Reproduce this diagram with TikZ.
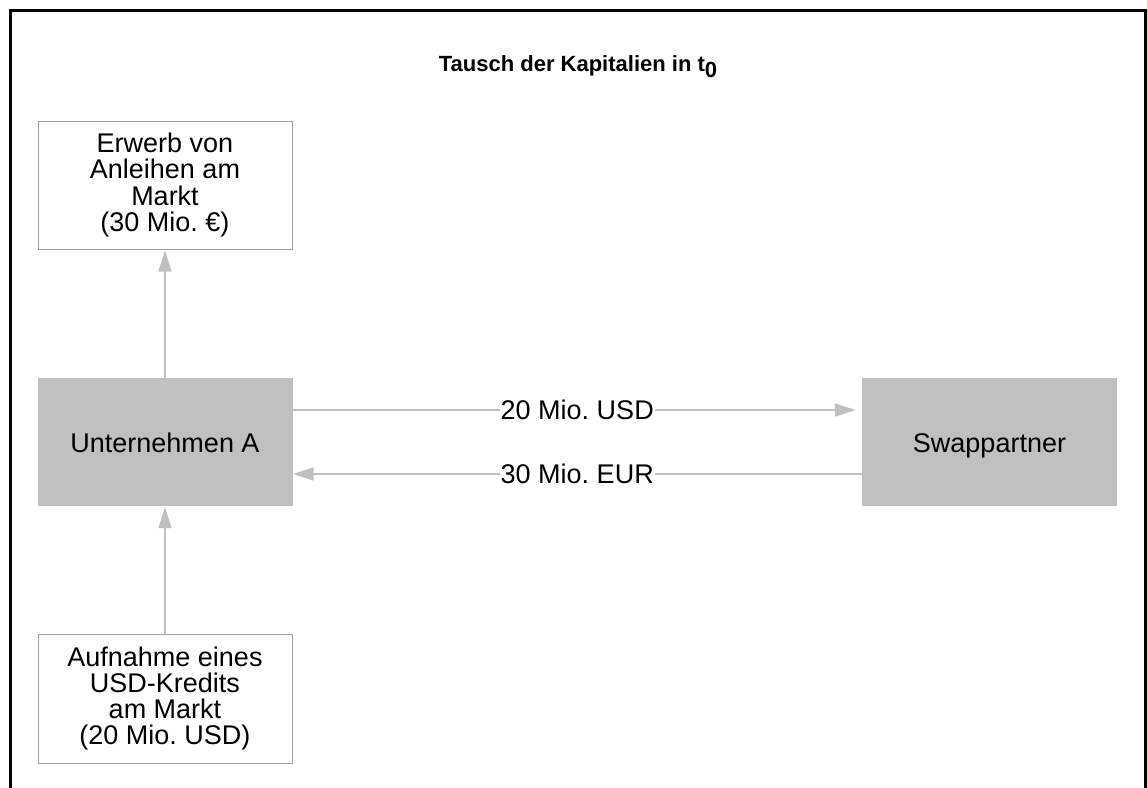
\documentclass[tikz,border=0pt]{standalone}
\usepackage{fontspec}
\setmainfont{Liberation Sans}
\usetikzlibrary{arrows.meta}
\definecolor{boxline}{RGB}{160,160,160}
\definecolor{partyfill}{RGB}{192,192,192}
\definecolor{flowgray}{RGB}{192,192,192}
\newcommand{\bodyfont}{\fontsize{27}{26.2}\selectfont}
\frenchspacing
\begin{document}
\begin{tikzpicture}[x=1pt,y=-1pt,
  marketbox/.style={draw=boxline, line width=1pt, fill=white, minimum width=254pt,
    minimum height=128pt, align=center, font=\bodyfont, inner sep=0pt},
  party/.style={fill=partyfill, minimum width=255pt, minimum height=128pt,
    font=\bodyfont, inner sep=0pt, text height=20pt, text depth=0pt},
  flow/.style={draw=flowgray, line width=1.5pt,
    -{Triangle[length=21pt,width=13pt,fill=flowgray]}},
  amount/.style={fill=white, font=\bodyfont, inner sep=1pt}]
  \useasboundingbox (0,0) rectangle (1147,787);
  \begin{scope}
    \clip (0,0) rectangle (1147,787);
    % outer frame, open at the lower edge
    \draw[line width=3pt] (10.4,800) -- (10.4,10.5) -- (1145.6,10.5) -- (1145.6,800);
  \end{scope}

  \node[font=\bfseries\fontsize{22}{24}\selectfont, anchor=base, inner sep=0pt] (title) at (578,71)
    {Tausch der Kapitalien in t\raisebox{-6pt}{0}};

  \node[marketbox] (anl) at (165,185) {Erwerb von\\Anleihen am\\Markt\\(30 Mio. €)};
  \node[party] (ua) at (165,442) {Unternehmen A};
  \node[party] (sp) at (989.5,442) {Swappartner};
  \node[marketbox, minimum height=129pt] (kred) at (165,698.5)
    {Aufnahme eines\\USD-Kredits\\am Markt\\(20 Mio. USD)};

  \draw[flow, shorten >=1pt] (ua.north) -- (anl.south);
  \draw[flow, shorten >=1pt] (kred.north) -- (ua.south);
  \draw[flow, shorten >=6pt] ([yshift=32pt]ua.east) -- node[amount] {20 Mio. USD} ([yshift=32pt]sp.west);
  \draw[flow] ([yshift=-32pt]sp.west) -- node[amount] {30 Mio. EUR} ([yshift=-32pt]ua.east);
\end{tikzpicture}
\end{document}
